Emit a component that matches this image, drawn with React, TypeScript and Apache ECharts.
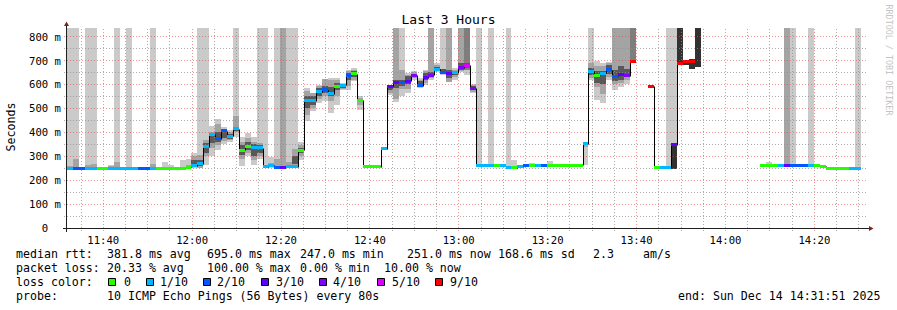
import { useEffect, useRef } from 'react';
import * as echarts from 'echarts';

// ---- time / scale constants (minutes since midnight) ----
const START_MIN = 11 * 60 + 31 + 51 / 60;
const END_MIN = START_MIN + 180;
const STEP_MIN = 80 / 60;
const Y_MAX = 836;
const TOP = Y_MAX;

// ---- median rtt per 80 s step (ms), null = no data ----
const MEDIAN: (number | null)[] = [
  248, 248, 248, 248, 248, 248, 248, 248, 248, 248,
  248, 248, 248, 248, 248, 249, 249, 249, 249, 249,
  254, 261, 269, 340, 392, 373, 406, 383, 415, 324,
  341, 336, 336, 257, 262, 254, 254, 256, 256, 325,
  532, 532, 570, 577, 561, 593, 597, 639, 644, 535,
  255, 255, 255, 332, 593, 609, 609, 613, 639, 595,
  628, 639, 663, 652, 645, 648, 670, 680, 585, 262,
  262, 262, 262, 260, 251, 251, 257, 262, 262, 260,
  260, 260, 260, 262, 262, 262, 262, 352, 656, 638,
  646, 662, 634, 641, 637, 695, null, null, 593, 251,
  251, 251, 348, 688, 695, 695, null, null, null, null,
  null, null, null, null, null, null, null, 261, 261, 261,
  261, 261, 261, 261, 261, 261, 261, 259, 250, 250,
  250, 250, 250, 250, null,
];

// ---- lost pings per step (out of 10) ----
const LOSS: number[] = [
  1, 2, 2, 1, 1, 0, 0, 1, 1, 1,
  1, 1, 2, 2, 1, 0, 0, 0, 0, 0,
  0, 1, 1, 1, 1, 2, 2, 1, 1, 0,
  0, 1, 1, 1, 1, 2, 3, 1, 1, 0,
  1, 1, 1, 2, 1, 0, 1, 2, 0, 0,
  0, 0, 0, 1, 3, 3, 2, 3, 4, 2,
  3, 4, 1, 2, 3, 1, 4, 5, 4, 1,
  1, 1, 0, 1, 1, 0, 1, 2, 0, 1,
  2, 0, 0, 0, 0, 0, 0, 1, 1, 0,
  1, 2, 2, 3, 4, 9, 10, 10, 9, 0,
  1, 1, 3, 9, 9, 9, 10, 10, 10, 10,
  10, 10, 10, 10, 10, 10, 10, 0, 0, 0,
  1, 3, 2, 2, 2, 1, 0, 0, 0, 0,
  0, 0, 1, 1, 10,
];

// ---- smoke: [step, shade, low ms, high ms] ----
const SMOKE: [number, number, number, number][] = [
  [0, 0, 247, TOP], [0, 1, 247, 258],
  [1, 0, 247, TOP], [1, 1, 247, 289],
  [3, 0, 247, TOP], [3, 1, 247, 262],
  [4, 0, 247, TOP], [4, 1, 247, 268],
  [5, 0, 247, 254],
  [7, 0, 247, 265], [7, 1, 247, 258],
  [8, 0, 247, TOP], [8, 1, 247, 275],
  [10, 0, 247, TOP],
  [13, 0, 247, 254],
  [14, 0, 247, TOP], [14, 1, 247, 268],
  [16, 0, 247, 275],
  [17, 0, 247, 262], [17, 1, 247, 256],
  [18, 0, 247, 254],
  [19, 0, 247, 284],
  [20, 0, 248, 290], [20, 1, 250, 262],
  [21, 0, 250, 315], [21, 1, 255, 300], [21, 3, 258, 285],
  [22, 0, 250, TOP], [22, 1, 252, 305], [22, 3, 258, 285],
  [23, 0, 265, TOP], [23, 1, 300, 368], [23, 3, 314, 356],
  [24, 0, 299, 428], [24, 1, 334, 403], [24, 3, 356, 398],
  [25, 0, 327, 457], [25, 1, 345, 436], [25, 3, 360, 400],
  [26, 0, 352, 422], [26, 1, 362, 412], [26, 3, 375, 405],
  [27, 0, 360, 410], [27, 1, 368, 400], [27, 3, 372, 392],
  [28, 0, 380, TOP], [28, 1, 403, 469], [28, 3, 405, 420],
  [29, 0, 260, 381], [29, 1, 290, 360], [29, 3, 305, 345],
  [30, 0, 299, 399], [30, 1, 315, 375], [30, 3, 325, 360],
  [31, 0, 264, 382], [31, 1, 285, 360], [31, 3, 300, 350],
  [32, 0, 290, TOP], [32, 1, 299, 357], [32, 3, 315, 345],
  [33, 0, 255, TOP],
  [34, 0, 251, 297], [34, 1, 253, 270],
  [35, 0, 250, TOP], [35, 1, 252, 290],
  [36, 0, 250, TOP], [36, 1, 252, TOP],
  [37, 0, 252, TOP], [37, 1, 254, 275],
  [38, 0, 255, TOP], [38, 1, 262, 330], [38, 3, 268, 300],
  [39, 0, 285, 361], [39, 1, 300, 345], [39, 3, 315, 335],
  [40, 0, 449, 585], [40, 1, 473, 571], [40, 3, 502, 550],
  [41, 0, 487, 564], [41, 1, 500, 564], [41, 3, 515, 550],
  [42, 0, 522, 599], [42, 1, 540, 595], [42, 3, 550, 585],
  [43, 0, 529, 622], [43, 1, 550, 622], [43, 3, 565, 595],
  [44, 0, 480, 627], [44, 1, 530, 620], [44, 3, 550, 590],
  [45, 0, 515, 627], [45, 1, 550, 620], [45, 3, 578, 606],
  [46, 0, 578, 606], [46, 1, 580, 600], [46, 3, 585, 598],
  [47, 0, 578, 659], [47, 1, 595, 655], [47, 3, 620, 648],
  [48, 0, 613, 669], [48, 1, 620, 662], [48, 3, 630, 655],
  [49, 0, 494, 550], [49, 1, 515, 545], [49, 3, 525, 540],
  [54, 0, 557, 599], [54, 1, 565, 597], [54, 3, 575, 595],
  [55, 0, 527, TOP], [55, 1, 540, TOP], [55, 3, 585, 620],
  [56, 0, 550, TOP], [56, 1, 580, 662], [56, 3, 595, 620],
  [57, 0, 564, 648], [57, 1, 580, 640], [57, 3, 600, 635],
  [58, 0, 620, 655], [58, 1, 625, 650], [58, 3, 630, 645],
  [59, 0, 585, 627], [59, 1, 588, 620], [59, 3, 592, 615],
  [60, 0, 599, 662], [60, 1, 605, 655], [60, 3, 620, 648],
  [61, 0, 620, TOP], [61, 1, 625, TOP], [61, 3, 630, 650],
  [62, 0, 650, 690], [62, 1, 655, 680], [62, 3, 658, 672],
  [63, 0, 640, TOP], [63, 3, 645, 665],
  [64, 0, 610, TOP], [64, 1, 612, TOP], [64, 3, 625, 660],
  [65, 0, 620, 669], [65, 1, 630, 660], [65, 3, 640, 655],
  [66, 0, 650, TOP], [66, 1, 655, TOP], [66, 3, 660, 690],
  [67, 0, 640, TOP], [67, 2, 660, TOP], [67, 3, 670, 690],
  [68, 0, 565, 600], [68, 1, 570, 598], [68, 3, 575, 595],
  [69, 0, 262, TOP],
  [71, 0, 262, TOP],
  [74, 0, 251, TOP],
  [75, 0, 251, 285],
  [76, 0, 255, 265],
  [78, 0, 260, 271],
  [81, 0, 260, 280],
  [87, 0, 265, 360], [87, 1, 340, 358],
  [88, 0, 620, TOP], [88, 1, 626, 690], [88, 3, 640, 670],
  [89, 0, 536, 697], [89, 1, 590, 676], [89, 3, 605, 655],
  [90, 0, 522, 690], [90, 1, 560, 676], [90, 3, 600, 655],
  [91, 0, 620, 692], [91, 1, 630, 690], [91, 3, 645, 680],
  [92, 0, 578, TOP], [92, 1, 600, TOP], [92, 3, 615, 660],
  [93, 0, 590, TOP], [93, 1, 606, TOP], [93, 3, 620, 676],
  [94, 0, 600, TOP], [94, 1, 620, TOP], [94, 3, 630, 665],
  [95, 0, 690, TOP], [95, 2, 690, TOP],
  [101, 0, 250, TOP],
  [102, 0, 247, TOP], [102, 4, 247, 348],
  [103, 4, 686, TOP],
  [104, 4, 680, 704],
  [105, 4, 663, 705],
  [106, 4, 671, TOP],
  [117, 0, 261, 268],
  [118, 0, 261, 276],
  [121, 0, 261, TOP], [121, 1, 261, TOP],
  [122, 0, 261, TOP],
  [125, 0, 261, TOP],
  [129, 0, 250, 255],
  [133, 0, 250, TOP],
];

const SHADES = ['#cacaca', '#a4a4a4', '#7e7e7e', '#585858', '#323232'];
const LOSS_COLORS: Record<number, string> = {
  0: '#26ff00', 1: '#00b8ff', 2: '#0059ff', 3: '#5e00ff', 4: '#7e00ff', 5: '#dd00ff', 9: '#ff0000',
};
const LEGEND_LOSS: [string, number, number, number][] = [
  ['0', 0, 108, 124], ['1/10', 1, 146, 160], ['2/10', 2, 203, 217], ['3/10', 3, 261, 276],
  ['4/10', 4, 319, 333], ['5/10', 5, 377, 392], ['9/10', 9, 435, 450],
];

const X_TICKS = [700, 720, 740, 760, 780, 800, 820, 840, 860];
const X_MINOR = [695, 705, 710, 715, 725, 730, 735, 745, 750, 755, 765, 770, 775, 785, 790, 795, 805, 810, 815, 825, 830, 835, 845, 850, 855, 865, 870];
const Y_TICKS = [0, 100, 200, 300, 400, 500, 600, 700, 800];
const Y_MINOR = [50, 150, 250, 350, 450, 550, 650, 750];

const MONO = '"DejaVu Sans Mono", monospace';
const LEG_FS = 11.6;

function lossColor(n: number): string {
  if (n >= 6) return LOSS_COLORS[9];
  return LOSS_COLORS[n];
}

function fmtTime(m: number): string {
  const h = Math.floor(m / 60);
  const mm = Math.round(m - h * 60);
  return `${String(h).padStart(2, '0')}:${String(mm).padStart(2, '0')}`;
}

export default function App() {
  const ref = useRef<HTMLDivElement>(null);
  useEffect(() => {
    document.body.style.margin = '0';
    if (!ref.current) return;
    const chart = echarts.init(ref.current, null, { renderer: 'svg' });

    const smokeData = SMOKE.slice()
      .sort((a, b) => a[1] - b[1])
      .map(([s, sh, lo, hi]) => [START_MIN + s * STEP_MIN, START_MIN + (s + 1) * STEP_MIN, lo, Math.min(hi, Y_MAX), sh]);

    const medData: number[][] = [];
    MEDIAN.forEach((m, i) => {
      if (m == null) return;
      const prev = i > 0 && MEDIAN[i - 1] != null ? (MEDIAN[i - 1] as number) : -1;
      medData.push([START_MIN + i * STEP_MIN, START_MIN + (i + 1) * STEP_MIN, m, LOSS[i], prev]);
    });

    const gridData: number[][] = [
      ...X_MINOR.map((v) => [v, 0, 0]),
      ...Y_MINOR.map((v) => [v, 1, 0]),
      ...X_TICKS.map((v) => [v, 0, 1]),
      ...Y_TICKS.filter((v) => v > 0).map((v) => [v, 1, 1]),
    ];

    const legendText = (text: string, x: number, y: number) => ({
      type: 'text', x, y, silent: true,
      style: { text, font: `${LEG_FS}px ${MONO}`, fill: '#000', verticalAlign: 'middle', align: 'left' },
    });

    const graphic: any[] = [
      { type: 'text', x: 448.5, y: 19.5, silent: true,
        style: { text: 'Last 3 Hours', font: `13px ${MONO}`, fill: '#000', align: 'center', verticalAlign: 'middle' } },
      { type: 'text', x: 11, y: 127, rotation: Math.PI / 2, silent: true,
        style: { text: 'Seconds', font: `${LEG_FS}px ${MONO}`, fill: '#000', align: 'center', verticalAlign: 'middle' } },
      { type: 'text', x: 888.5, y: 60, rotation: -Math.PI / 2, silent: true,
        style: { text: 'RRDTOOL / TOBI OETIKER', font: `8.4px ${MONO}`, fill: '#c4c4c4', align: 'center', verticalAlign: 'middle' } },
      legendText('median rtt:', 16, 254),
      legendText('381.8 ms avg', 107, 254),
      legendText('695.0 ms max', 207, 254),
      legendText('247.0 ms min', 300, 254),
      legendText('251.0 ms now', 407, 254),
      legendText('168.6 ms sd', 498, 254),
      legendText('2.3', 593, 254),
      legendText('am/s', 643, 254),
      legendText('packet loss:', 16, 268),
      legendText('20.33 % avg', 107, 268),
      legendText('100.00 % max', 207, 268),
      legendText('0.00 % min', 300, 268),
      legendText('10.00 % now', 384, 268),
      legendText('loss color:', 16, 282),
      legendText('probe:', 16, 296),
      legendText('10 ICMP Echo Pings (56 Bytes) every 80s', 107, 296),
      legendText('end: Sun Dec 14 14:31:51 2025', 678, 296),
    ];
    LEGEND_LOSS.forEach(([label, n, bx, tx]) => {
      graphic.push({ type: 'rect', silent: true, shape: { x: bx + 0.5, y: 278.5, width: 7, height: 7 },
        style: { fill: lossColor(n), stroke: '#000', lineWidth: 1 } });
      graphic.push(legendText(label, tx, 282));
    });

    chart.setOption({
      animation: false,
      backgroundColor: '#ffffff',
      grid: { left: 67, top: 28, width: 800, height: 200, containLabel: false },
      xAxis: {
        type: 'value', min: START_MIN, max: END_MIN,
        axisLine: { show: false }, axisTick: { show: false }, splitLine: { show: false },
        axisLabel: { customValues: X_TICKS, formatter: (v: number) => fmtTime(v), margin: 6,
          color: '#000', fontFamily: MONO, fontSize: 10.6 },
      },
      yAxis: {
        type: 'value', min: 0, max: Y_MAX,
        axisLine: { show: false }, axisTick: { show: false }, splitLine: { show: false },
        axisLabel: { customValues: Y_TICKS, formatter: (v: number) => (v === 0 ? '0\u00a0\u00a0' : `${v} m`), margin: 6,
          color: '#000', fontFamily: MONO, fontSize: 10.6 },
      },
      graphic,
      series: [
        {
          type: 'custom', name: 'smoke', silent: true, z: 1,
          encode: { x: [0, 1], y: [2, 3] },
          data: smokeData,
          renderItem: (_p: any, api: any) => {
            const a = api.coord([api.value(0), api.value(3)]);
            const b = api.coord([api.value(1), api.value(2)]);
            const L = Math.round(a[0]), R = Math.round(b[0]);
            const T = Math.round(a[1]), B = Math.round(b[1]);
            return { type: 'rect', shape: { x: L, y: T, width: R - L, height: Math.max(B - T, 1) },
              style: { fill: SHADES[api.value(4)] } };
          },
        },
        {
          type: 'custom', name: 'grid', silent: true, z: 2,
          data: gridData,
          renderItem: (_p: any, api: any) => {
            const v = api.value(0), orient = api.value(1), major = api.value(2);
            const stroke = major ? 'rgba(222,79,79,0.6)' : 'rgba(143,143,143,0.75)';
            if (orient === 0) {
              const a = api.coord([v, 0]);
              const b = api.coord([v, Y_MAX]);
              const x = Math.floor(a[0]) + 0.5;
              return { type: 'line', shape: { x1: x, y1: a[1] + 3, x2: x, y2: b[1] },
                style: { stroke, lineWidth: 1, lineDash: [1, 2] } };
            }
            const a = api.coord([START_MIN, v]);
            const b = api.coord([END_MIN, v]);
            const y = Math.floor(a[1]) + 0.5;
            return { type: 'line', shape: { x1: a[0] - 3, y1: y, x2: b[0], y2: y },
              style: { stroke, lineWidth: 1, lineDash: [1, 2] } };
          },
        },
        {
          type: 'custom', name: 'median-line', silent: true, z: 3,
          encode: { x: [0, 1], y: 2 },
          data: medData,
          renderItem: (_p: any, api: any) => {
            const a = api.coord([api.value(0), api.value(2)]);
            const b = api.coord([api.value(1), api.value(2)]);
            const L = Math.round(a[0]), R = Math.round(b[0]);
            const y = Math.round(a[1]) + 0.5;
            const children: any[] = [
              { type: 'line', shape: { x1: L, y1: y, x2: R, y2: y }, style: { stroke: '#000', lineWidth: 1 } },
            ];
            const prev = api.value(4);
            if (prev >= 0) {
              const p = api.coord([api.value(0), prev]);
              const yp = Math.round(p[1]) + 0.5;
              children.push({ type: 'line', shape: { x1: L + 0.5, y1: yp, x2: L + 0.5, y2: y },
                style: { stroke: '#000', lineWidth: 1 } });
            }
            return { type: 'group', children };
          },
        },
        {
          type: 'custom', name: 'median', silent: true, z: 4,
          encode: { x: [0, 1], y: 2 },
          data: medData,
          renderItem: (_p: any, api: any) => {
            const a = api.coord([api.value(0), api.value(2)]);
            const b = api.coord([api.value(1), api.value(2)]);
            const L = Math.round(a[0]), R = Math.round(b[0]);
            const T = Math.round(a[1] - 1.5);
            return { type: 'rect', shape: { x: L, y: T, width: R - L, height: 3 },
              style: { fill: lossColor(api.value(3)) } };
          },
        },
        {
          type: 'custom', name: 'axes', silent: true, z: 5,
          data: [[START_MIN, 0]],
          renderItem: (_p: any, api: any) => {
            const o = api.coord([START_MIN, 0]);
            const t = api.coord([START_MIN, Y_MAX]);
            const r = api.coord([END_MIN, 0]);
            const x = Math.round(o[0]) - 0.5;
            const y = Math.round(o[1]) + 0.5;
            const axis = '#1f1f1f';
            const arrow = '#801f1f';
            return {
              type: 'group', children: [
                { type: 'line', shape: { x1: x, y1: y + 3.5, x2: x, y2: t[1] - 2 }, style: { stroke: axis, lineWidth: 1 } },
                { type: 'line', shape: { x1: x - 3.5, y1: y, x2: r[0] + 2, y2: y }, style: { stroke: axis, lineWidth: 1 } },
                { type: 'polygon', shape: { points: [[x - 2.5, t[1] - 2], [x + 2.5, t[1] - 2], [x, t[1] - 6.5]] }, style: { fill: arrow } },
                { type: 'polygon', shape: { points: [[r[0] + 2, y - 2.5], [r[0] + 2, y + 2.5], [r[0] + 6.5, y]] }, style: { fill: arrow } },
              ],
            };
          },
        },
      ],
    });
    return () => chart.dispose();
  }, []);
  return <div ref={ref} style={{ width: 897, height: 310 }} />;
}
